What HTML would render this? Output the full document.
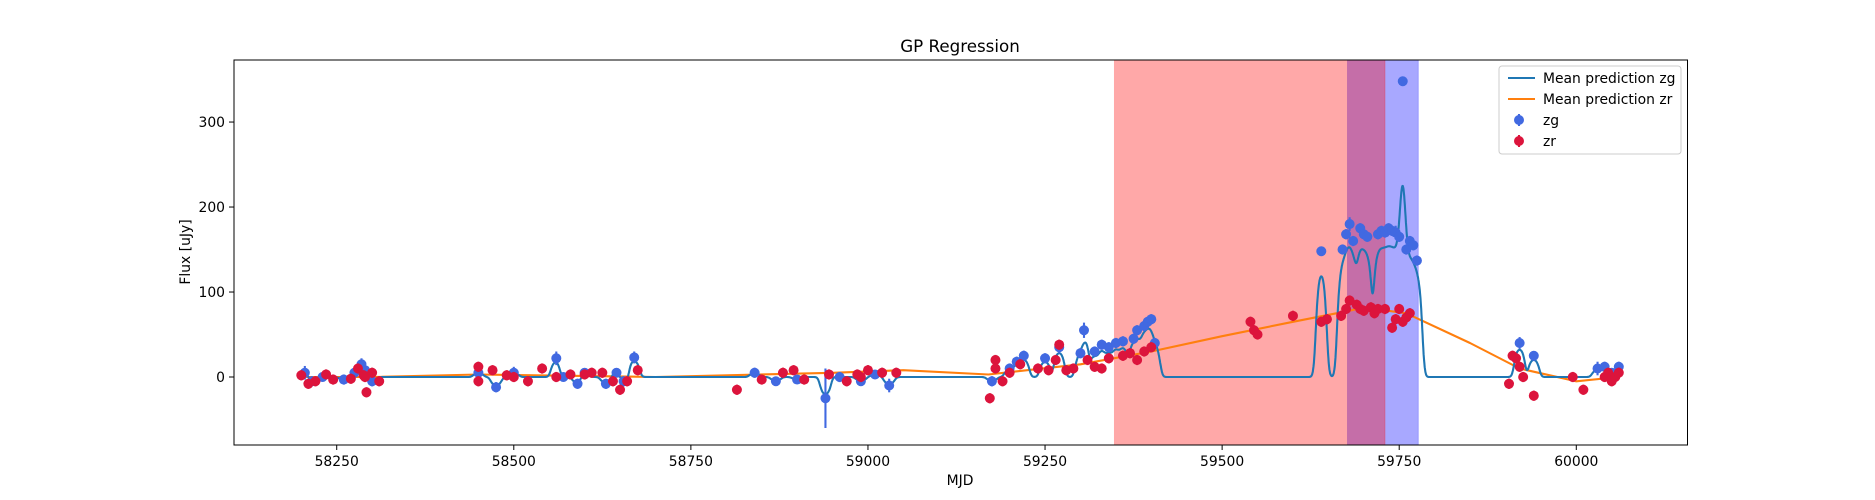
<!DOCTYPE html>
<html><head><meta charset="utf-8"><style>
body{margin:0;background:#fff;}
svg{display:block;font-family:"DejaVu Sans","Liberation Sans",sans-serif;}
</style></head><body>
<svg id="chart" width="1875" height="500"></svg>
<script>
const zgMJD=[58205,58215,58230,58260,58275,58285,58290,58300,
58450,58475,58500,58560,58570,58590,58600,58630,58645,58655,58670,
58840,58870,58900,58940,58960,58990,59010,59030,
59175,59200,59210,59220,59250,59270,59300,59305,59320,59330,59340,59350,59360,59375,59380,59390,59395,59400,59405,
59640,59670,59675,59680,59685,59695,59700,59705,59720,59725,59730,59735,59740,59745,59750,59755,59760,59765,59770,59775,
59920,59940,60030,60040,60050,60060];
const zgFlux=[5,-5,0,-3,5,15,8,-5,
5,-12,5,22,0,-8,5,-8,5,-5,23,
5,-5,-3,-25,0,-5,3,-10,
-5,10,18,25,22,35,28,55,30,38,35,40,42,45,55,60,65,68,40,
148,150,168,180,160,175,168,165,168,172,170,175,172,170,165,348,150,160,155,137,
40,25,10,12,5,12];
const zgErr=[8,6,5,6,5,7,5,6,
6,6,7,8,5,6,5,6,5,6,7,
6,5,5,35,6,5,5,8,
6,6,6,6,6,7,6,9,6,6,6,6,6,6,6,6,6,6,6,
5,6,6,8,6,6,6,6,6,6,6,6,6,8,6,5,6,6,6,6,
7,5,8,6,5,6];
const zrMJD=[58200,58210,58220,58235,58245,58270,58280,58288,58290,58292,58300,58310,
58450,58450,58470,58490,58500,58520,58540,58560,58580,58600,58610,58625,58640,58650,58660,58675,
58815,58850,58880,58895,58910,58945,58970,58985,58990,59000,59020,59040,
59172,59180,59180,59190,59200,59215,59240,59255,59265,59270,59280,59290,59310,59320,59330,59340,59360,59370,59380,59390,59400,
59540,59545,59550,59600,59640,59648,
59668,59675,59680,59690,59695,59700,59710,59715,59720,59730,59740,59745,59750,59755,59760,59765,
59905,59910,59915,59920,59925,59940,59995,60010,60040,60045,60050,60055,60060];
const zrFlux=[2,-8,-5,3,-3,-2,10,2,0,-18,5,-5,
12,-5,8,2,0,-5,10,0,3,3,5,5,-5,-15,-5,8,
-15,-3,5,8,-3,3,-5,3,0,8,5,5,
-25,20,10,-5,5,15,10,8,20,38,8,10,20,12,10,22,25,28,20,30,35,
65,55,50,72,65,68,
72,80,90,85,80,78,82,75,80,80,58,68,80,65,70,75,
-8,25,22,12,0,-22,0,-15,0,5,-5,0,5];
const zrErr=6;
const predZrMJD=[58200,58300,58450,58700,58950,59050,59170,59300,59400,59500,59600,59680,59700,59760,59850,59920,60000,60060];
const predZrVal=[0,0,3,0,5,8,3,15,30,48,65,78,82,75,40,10,-5,0];
const xTicks=[58250,58500,58750,59000,59250,59500,59750,60000];
const yTicks=[0,100,200,300];
const spanRed=[59348,59730];
const spanBlue=[59677,59777];

const L=234,R=1687.5,T=60,B=445;
const X0=58105,X1=60157,Y0=-80,Y1=373;
const sx=v=>L+(v-X0)/(X1-X0)*(R-L);
const sy=v=>B-(v-Y0)/(Y1-Y0)*(B-T);
const svg=document.getElementById('chart');
const NS='http://www.w3.org/2000/svg';
function mk(tag,attrs,parent){const e=document.createElementNS(NS,tag);for(const k in attrs)e.setAttribute(k,attrs[k]);(parent||svg).appendChild(e);return e;}

const bs=mk('rect',{x:sx(spanBlue[0]),y:T,width:sx(spanBlue[1])-sx(spanBlue[0]),height:B-T,fill:'#0000ff','fill-opacity':0.34,stroke:'#0000ff','stroke-opacity':0.2});


const rs=mk('rect',{x:sx(spanRed[0]),y:T,width:sx(spanRed[1])-sx(spanRed[0]),height:B-T,fill:'#ff0000','fill-opacity':0.34,stroke:'#ff0000','stroke-opacity':0.2});



let d='';
for(let i=0;i<predZrMJD.length;i++){d+=(i?'L':'M')+sx(predZrMJD[i]).toFixed(1)+','+sy(predZrVal[i]).toFixed(1);}
const pz=mk('path',{d:d,fill:'none',stroke:'#ff7f0e','stroke-width':2.1,'stroke-linejoin':'round'});



let dg='';
for(let x=58200;x<=60060;x+=0.5){
  let sw=0,swy=0;
  for(let i=0;i<zgMJD.length;i++){const w=Math.exp(-Math.pow(x-zgMJD[i],2)/(2*4*4));sw+=w;swy+=w*zgFlux[i];}
  const m=swy/(sw+0.25);
  dg+=(x===58200?'M':'L')+sx(x).toFixed(1)+','+sy(m).toFixed(1);
}
const pg=mk('path',{d:dg,fill:'none',stroke:'#1f77b4','stroke-width':2.1,'stroke-linejoin':'round'});



function pts(xs,ys,errs,color,name){
  const g=mk('g',{});
  
  
  for(let i=0;i<xs.length;i++){
    const e=Array.isArray(errs)?errs[i]:errs;
    const cx=sx(xs[i]),cy=sy(ys[i]);
    const ln=mk('line',{x1:cx,x2:cx,y1:sy(ys[i]-e),y2:sy(ys[i]+e),stroke:color,'stroke-width':2.1},g);
    
    
    const c=mk('circle',{cx:cx,cy:cy,r:5,fill:color},g);
    
    
  }
}
pts(zgMJD,zgFlux,zgErr,'#4169e1','zg-points');
pts(zrMJD,zrFlux,zrErr,'#dc143c','zr-points');

const fr=mk('rect',{x:L,y:T,width:R-L,height:B-T,fill:'none',stroke:'#000','stroke-width':1});


xTicks.forEach(t=>{
  const x=sx(t);
  const tl=mk('line',{x1:x,x2:x,y1:B,y2:B+5,stroke:'#000','stroke-width':1});
  
  
  const tx=mk('text',{x:x,y:B+21,'font-size':13.9,'text-anchor':'middle',fill:'#000'});
  tx.textContent=t;
  
  
});
yTicks.forEach(t=>{
  const y=sy(t);
  const tl=mk('line',{x1:L-5,x2:L,y1:y,y2:y,stroke:'#000','stroke-width':1});
  
  
  const tx=mk('text',{x:L-9,y:y+5,'font-size':13.9,'text-anchor':'end',fill:'#000'});
  tx.textContent=t;
  
  
});
</script>
<svg style="position:absolute;left:0;top:0" width="1875" height="500">
<text x="960" y="52" font-size="16.7" text-anchor="middle" font-family="DejaVu Sans,Liberation Sans,sans-serif">GP Regression</text>
<text x="960" y="485" font-size="13.9" text-anchor="middle" font-family="DejaVu Sans,Liberation Sans,sans-serif">MJD</text>
<text x="190" y="252" font-size="13.9" text-anchor="middle" transform="rotate(-90 190 252)" font-family="DejaVu Sans,Liberation Sans,sans-serif">Flux [uJy]</text>
<g font-family="DejaVu Sans,Liberation Sans,sans-serif" font-size="13.9">
<rect x="1499" y="66" width="182" height="88" rx="3" fill="#fff" fill-opacity="0.8" stroke="#ccc"/>
<line x1="1508" x2="1535" y1="78" y2="78" stroke="#1f77b4" stroke-width="2.1"/>
<text x="1543" y="83">Mean prediction zg</text>
<line x1="1508" x2="1535" y1="99" y2="99" stroke="#ff7f0e" stroke-width="2.1"/>
<text x="1543" y="104">Mean prediction zr</text>
<line x1="1519" x2="1519" y1="114" y2="126" stroke="#4169e1" stroke-width="2.1"/>
<circle cx="1519" cy="120" r="5" fill="#4169e1"/>
<text x="1543" y="125">zg</text>
<line x1="1519" x2="1519" y1="135" y2="147" stroke="#dc143c" stroke-width="2.1"/>
<circle cx="1519" cy="141" r="5" fill="#dc143c"/>
<text x="1543" y="146">zr</text>
</g>
</svg>
</body></html>
